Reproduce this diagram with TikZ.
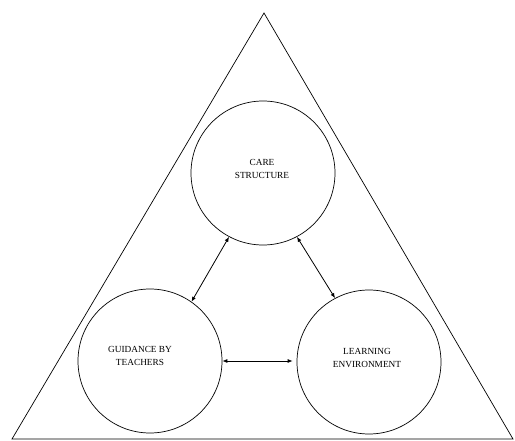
\documentclass[tikz,border=0pt]{standalone}
\usepackage{fontspec}
\setmainfont{Liberation Serif}
\usetikzlibrary{arrows.meta}
\begin{document}
\begin{tikzpicture}[x=1pt,y=-1pt,
  circ/.style={draw, circle, line width=0.7pt, minimum size=144pt, inner sep=0pt},
  lbl/.style={font=\fontsize{9.3}{13.5}\selectfont, align=center, inner sep=0pt},
  conn/.style={line width=0.8pt, {Latex[length=5pt,width=4pt]}-{Latex[length=5pt,width=4pt]}}]
\useasboundingbox (0,0) rectangle (515,441);
\coordinate (apex) at (264,13);
\coordinate (bl) at (12,439);
\coordinate (br) at (513,439);
\draw[line width=0.7pt] (apex) -- (bl) -- (br) -- cycle;
\node[circ] (top) at (263,173) {};
\node[circ] (left) at (150,361) {};
\node[circ] (right) at (369,362) {};
\node[lbl] (toptext) at (262,169) {CARE\\STRUCTURE};
\node[lbl] (lefttext) at (140,356) {GUIDANCE BY\\TEACHERS};
\node[lbl] (righttext) at (367,358) {LEARNING\\ENVIRONMENT};
\draw[conn] (top.242) -- (left.55);
\draw[conn] (top.298) -- (right.118);
\draw[conn] ([yshift=0pt]left.east) -- ([xshift=-4pt]left.east -| right.west);
\end{tikzpicture}
\end{document}
